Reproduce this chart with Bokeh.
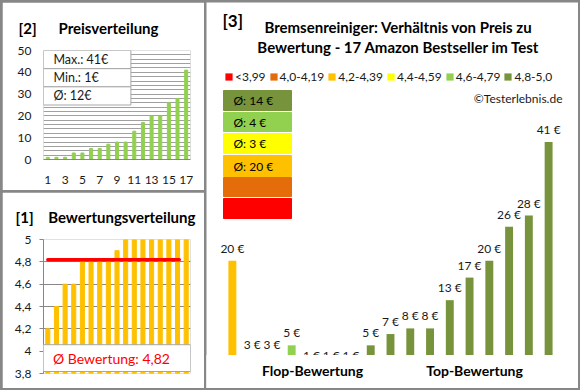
from bokeh.plotting import figure
from bokeh.layouts import row, column
from bokeh.models import (ColumnDataSource, BoxAnnotation, Label, FixedTicker,
                          CustomJSTickFormatter, Legend, LegendItem)
from bokeh.embed import file_html
from bokeh.resources import INLINE
from bokeh.core.properties import value

# ---------------- data ----------------
# products ordered by rating (as in chart [3])
prices = [20, 3, 3, 5, 1, 1, 1, 5, 7, 8, 8, 13, 17, 20, 26, 28, 41]
ratings = [4.2, 4.4, 4.6, 4.6, 4.8, 4.8, 4.8, 4.8, 4.9, 5.0, 5.0, 5.0, 5.0, 5.0, 5.0, 5.0, 5.0]
class_labels = ["<3,99", "4,0-4,19", "4,2-4,39", "4,4-4,59", "4,6-4,79", "4,8-5,0"]
class_lower = [0.0, 4.0, 4.2, 4.4, 4.6, 4.8]
class_colors = ["#FF0000", "#E46C0A", "#FFC000", "#FFFF00", "#92D050", "#77933C"]
price_ticks = [0, 10, 20, 30, 40, 50]
price_grid = list(range(0, 52, 2))
rank_ticks = [1, 3, 5, 7, 9, 11, 13, 15, 17]
rating_ticks = [3.8, 4.0, 4.2, 4.4, 4.6, 4.8, 5.0]
group_names = ["Flop-Bewertung", "Top-Bewertung"]

FONT = "Lato"
GRAY = "#878787"
TXT = "#1a1a1a"
NB = "\u00a0"
NAN = float("nan")

n = len(prices)
idx = list(range(1, n + 1))
prices_sorted = sorted(prices)
ratings_sorted = sorted(ratings)


def group_of(r):
    g = 0
    for i, lo in enumerate(class_lower):
        if r >= lo - 1e-9:
            g = i
    return g


groups = [group_of(r) for r in ratings]


def lab(p, x, y, text, size="12px", bold=False, color=TXT, align="left"):
    p.add_layout(Label(x=x, y=y, text=text, text_font=FONT, text_font_size=size,
                       text_font_style="bold" if bold else "normal", text_color=color,
                       text_align=align, text_baseline="middle"))


def box(p, l, r, t, b, fill="white", line="#A6A6A6"):
    p.add_layout(BoxAnnotation(left=l, right=r, top=t, bottom=b, fill_color=fill,
                               fill_alpha=1, line_color=line if line else fill,
                               line_alpha=1, line_width=1))


def base_fig(w, h, xr, yr, ml, mr, mt, mb):
    p = figure(width=w, height=h, x_range=xr, y_range=yr, output_backend="svg",
               toolbar_location=None, min_border_left=ml, min_border_right=mr,
               min_border_top=mt, min_border_bottom=mb)
    p.outline_line_color = None
    p.background_fill_color = "white"
    p.border_fill_color = "white"
    p.xgrid.grid_line_color = None
    p.ygrid.grid_line_color = None
    for ax in (p.xaxis[0], p.yaxis[0]):
        ax.major_label_text_font = FONT
        ax.major_label_text_font_size = "12px"
        ax.major_label_text_color = TXT
        ax.minor_tick_line_color = None
        ax.major_tick_line_color = None
        ax.major_tick_out = 0
        ax.major_tick_in = 0
        ax.axis_line_color = GRAY
    return p


def set_title(p, text, offset, standoff):
    p.title.text = text
    p.title.text_font = FONT
    p.title.text_font_size = "15px"
    p.title.text_font_style = "bold"
    p.title.text_color = "black"
    p.title.align = "left"
    p.title.offset = offset
    p.title.standoff = standoff


# ---------------- panel [2] Preisverteilung ----------------
W2, H2 = 202, 188
L2, R2, T2, B2 = 40, 14, 45, 31
p2 = base_fig(W2, H2, (0.5, 17.5), (0, 50), L2, R2, T2, B2)
fw2, fh2 = W2 - L2 - R2, H2 - T2 - B2


def p2x(px):
    return 0.5 + (px - 2 - L2) * 17 / fw2


def p2y(py):
    return 50 - (py - 2 - T2) * 50 / fh2


p2.vbar(x=idx, top=prices_sorted, width=0.35, color="#92D050")
p2.yaxis.ticker = FixedTicker(ticks=price_ticks)
p2.yaxis.axis_line_color = None
p2.yaxis.major_label_standoff = 12
p2.ygrid.ticker = FixedTicker(ticks=price_grid)
p2.ygrid.grid_line_color = "#A0A0A0"
p2.xaxis.ticker = FixedTicker(ticks=rank_ticks)
p2.xaxis.major_label_standoff = 16

rows = [50, 50 - 25 / 3, 50 - 50 / 3, 25]
for k in range(3):
    box(p2, 0.5, p2x(130), rows[k], rows[k + 1])
stats = [f"Max.: {max(prices)}€", f"Min.: {min(prices)}€", f"Ø: {round(sum(prices) / n)}€"]
for k, t in enumerate(stats):
    lab(p2, p2x(52), (rows[k] + rows[k + 1]) / 2, t, size="12.5px")
set_title(p2, "[2]" + NB * 6 + "Preisverteilung", -25, 28)

# ---------------- panel [1] Bewertungsverteilung ----------------
W1, H1 = 202, 196
L1, R1, T1, B1 = 41, 14, 46, 15
p1 = base_fig(W1, H1, (0.5, 17.5), (3.8, 5.0), L1, R1, T1, B1)
fw1, fh1 = W1 - L1 - R1, H1 - T1 - B1


def p1x(px):
    return 0.5 + (px - 2 - L1) * 17 / fw1


def p1y(py):
    return 5.0 - (py - 192 - T1) * 1.2 / fh1


p1.vbar(x=idx, top=ratings_sorted, bottom=3.8, width=0.47, color="#FFC000")
avg_r = sum(ratings) / n
p1.line([1, 16.2], [avg_r, avg_r], line_color="#FF0000", line_width=3.5, line_cap="round")
p1.xaxis.visible = False
p1.yaxis.ticker = FixedTicker(ticks=rating_ticks)
p1.yaxis.formatter = CustomJSTickFormatter(
    code="return (Math.round(tick*10)/10).toString().replace('.', ',');")
p1.yaxis.major_tick_line_color = GRAY
p1.yaxis.major_tick_out = 4
p1.yaxis.major_label_standoff = 8
p1.ygrid.grid_line_color = GRAY

box(p1, p1x(35), p1x(190), p1y(344), p1y(371))
lab(p1, p1x(111), p1y(357.5), "Ø Bewertung: " + f"{avg_r:.2f}".replace(".", ","),
    size="14px", color="#FF0000", align="center")
set_title(p1, "[1]" + NB * 4 + "Bewertungsverteilung", -28, 27)

# ---------------- panel [3] Preis vs. Bewertung ----------------
# the frame fills the whole panel so that annotations are not clipped
W3, H3 = 372, 386
BAR_L, BAR_R = 16, 352          # pixel span of the 17 categories inside the panel
BASE = 353                      # pixel row of the value axis' lower end
Y3LO, PXPER = 3.2, 5.645
XPER = (BAR_R - BAR_L) / 17
X3LO = 0.5 - BAR_L / XPER
X3HI = 17.5 + (W3 - BAR_R) / XPER
Y3BOT = Y3LO - (H3 - BASE) / PXPER
Y3HI = Y3LO + BASE / PXPER
p3 = base_fig(W3, H3, (X3LO, X3HI), (Y3BOT, Y3HI), 0, 0, 0, 0)
p3.xaxis.visible = False
p3.yaxis.visible = False


def p3x(px):
    return X3LO + (px - 206) / XPER


def p3y(py):
    return Y3LO + (2 + BASE - py) / PXPER


items = []
for g, (cl, col) in enumerate(zip(class_labels, class_colors)):
    sel = [k for k in range(n) if groups[k] == g]
    xs = [k + 1 for k in sel] or [NAN]
    tops = [prices[k] for k in sel] or [NAN]
    src = ColumnDataSource(dict(x=xs, top=tops))
    r = p3.vbar(x="x", top="top", bottom=Y3LO, width=0.4, source=src,
                fill_color=col, line_color=None)
    items.append(LegendItem(label=cl, renderers=[r]))

p3.text(x=idx, y=prices, text=[f"{v} €" for v in prices], text_align="center",
        text_baseline="bottom", y_offset=-5, text_font=value(FONT),
        text_font_size="12px", text_color=TXT)

# everything below the value axis' lower end is hidden
box(p3, X3LO, X3HI, Y3LO, Y3BOT, fill="white", line=None)

legend = Legend(items=items, orientation="horizontal", location=(18, H3 - 84 + 2),
                margin=0, padding=0, spacing=3, label_standoff=2,
                glyph_width=9, glyph_height=9, label_height=14,
                label_text_font=FONT, label_text_font_size="12px",
                label_text_color=TXT, border_line_color=None, background_fill_alpha=0)
p3.add_layout(legend)

lab(p3, p3x(312), p3y(370), group_names[0], size="14px", bold=True, color="black",
    align="center")
lab(p3, p3x(474), p3y(370), group_names[1], size="14px", bold=True, color="black",
    align="center")

# average price per rating class
row_tops = [90, 112, 133, 155, 177, 198]
row_bots = [110, 131, 153, 176, 196, 218]
for j, g in enumerate(reversed(range(len(class_labels)))):
    box(p3, p3x(223), p3x(291), p3y(row_tops[j]), p3y(row_bots[j]),
        fill=class_colors[g], line=None)
    vals = [prices[k] for k in range(n) if groups[k] == g]
    if vals:
        lab(p3, p3x(233), p3y((row_tops[j] + row_bots[j]) / 2),
            f"Ø: {round(sum(vals) / len(vals))} €", color="black")

lab(p3, p3x(562), p3y(98), "©Testerlebnis.de", align="right")
lab(p3, p3x(222), p3y(20), "[3]", size="17px", bold=True, color="black")
lab(p3, p3x(398), p3y(26), "Bremsenreiniger: Verhältnis von Preis zu",
    size="15px", bold=True, color="black", align="center")
lab(p3, p3x(398), p3y(46), "Bewertung - 17 Amazon Bestseller im Test",
    size="15px", bold=True, color="black", align="center")

root = row(column(p2, p1, spacing=2), p3, spacing=2,
           styles={"background-color": GRAY, "padding": "2px"})

open("out.html", "w").write(file_html(root, INLINE))
